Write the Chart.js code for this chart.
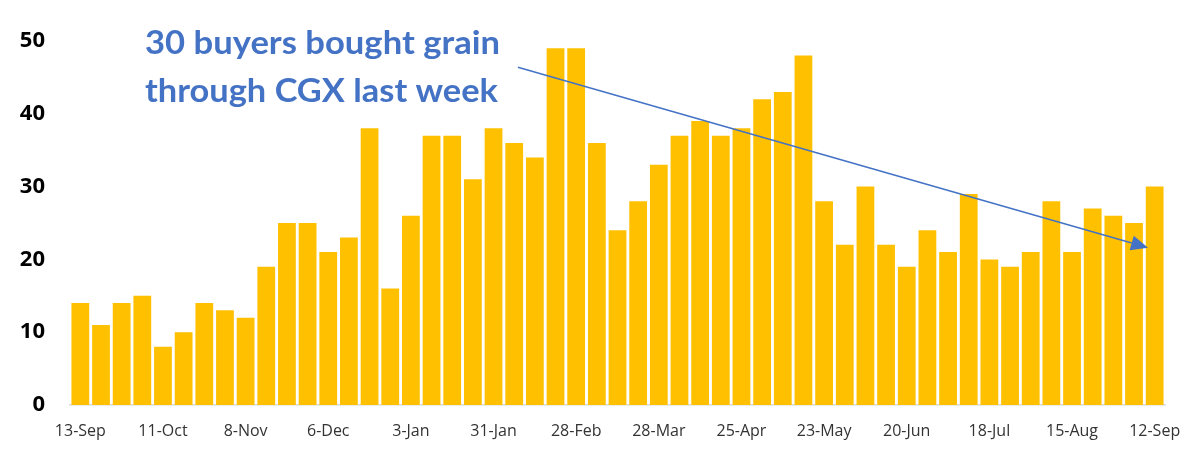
<!DOCTYPE html>
<html>
<head>
<meta charset="utf-8">
<script src="https://cdn.jsdelivr.net/npm/chart.js@4/dist/chart.umd.min.js"></script>
<style>
html,body{margin:0;padding:0;background:#fff;}
#wrap{width:1203px;height:462px;}
</style>
</head>
<body>
<div id="wrap"><canvas id="c" width="1203" height="462"></canvas></div>
<script>
const categories = ["13-Sep","20-Sep","27-Sep","4-Oct","11-Oct","18-Oct","25-Oct","1-Nov","8-Nov","15-Nov","22-Nov","29-Nov","6-Dec","13-Dec","20-Dec","27-Dec","3-Jan","10-Jan","17-Jan","24-Jan","31-Jan","7-Feb","14-Feb","21-Feb","28-Feb","7-Mar","14-Mar","21-Mar","28-Mar","4-Apr","11-Apr","18-Apr","25-Apr","2-May","9-May","16-May","23-May","30-May","6-Jun","13-Jun","20-Jun","27-Jun","4-Jul","11-Jul","18-Jul","25-Jul","1-Aug","8-Aug","15-Aug","22-Aug","29-Aug","5-Sep","12-Sep"];
const buyers = [14,11,14,15,8,10,14,13,12,19,25,25,21,23,38,16,26,37,37,31,38,36,34,49,49,36,24,28,33,37,39,37,38,42,43,48,28,22,30,22,19,24,21,29,20,19,21,28,21,27,26,25,30];
const yTicks = [0,10,20,30,40,50];
const titleLines = ["30 buyers bought grain","through CGX last week"];
// arrow annotation endpoints in data units (category index, value)
const arrowFrom = {x:21.18, y:46.4};
const arrowTo = {x:51.68, y:21.6};

const annotation = {
  id:'annot',
  afterDraw(chart){
    const ctx = chart.ctx, xs = chart.scales.x, ys = chart.scales.y;
    ctx.save();
    ctx.fillStyle = '#4472C4';
    ctx.font = 'bold 32px Lato';
    ctx.textBaseline = 'alphabetic';
    const targetW = [355, 353];
    const baselines = [54, 102];
    titleLines.forEach((t,i)=>{
      const w = ctx.measureText(t).width;
      ctx.save();
      ctx.translate(145, baselines[i]);
      ctx.scale(targetW[i]/w, 1);
      ctx.fillText(t, 0, 0);
      ctx.restore();
    });
    const x1 = xs.getPixelForValue(arrowFrom.x), y1 = ys.getPixelForValue(arrowFrom.y);
    const x2 = xs.getPixelForValue(arrowTo.x), y2 = ys.getPixelForValue(arrowTo.y);
    const ang = Math.atan2(y2-y1, x2-x1);
    const hl = 17, hw = 7.5;
    const bx = x2 - hl*Math.cos(ang), by = y2 - hl*Math.sin(ang);
    ctx.strokeStyle = '#4472C4';
    ctx.lineWidth = 1.5;
    ctx.beginPath();
    ctx.moveTo(x1,y1);
    ctx.lineTo(bx,by);
    ctx.stroke();
    ctx.beginPath();
    ctx.moveTo(x2,y2);
    ctx.lineTo(bx + hw*Math.sin(ang), by - hw*Math.cos(ang));
    ctx.lineTo(bx - hw*Math.sin(ang), by + hw*Math.cos(ang));
    ctx.closePath();
    ctx.fillStyle = '#4472C4';
    ctx.fill();
    ctx.restore();
  }
};

new Chart(document.getElementById('c'), {
  type:'bar',
  data:{
    labels: categories,
    datasets:[{
      data: buyers,
      backgroundColor:'#FFC000',
      borderWidth:0,
      barPercentage:0.86,
      categoryPercentage:1.0
    }]
  },
  options:{
    responsive:false,
    animation:false,
    devicePixelRatio:1,
    layout:{padding:{left:0,right:38,top:41,bottom:0}},
    plugins:{legend:{display:false},tooltip:{enabled:false}},
    scales:{
      x:{
        grid:{display:false,drawTicks:false},
        border:{display:true,color:'#D9D9D9',width:1.5},
        ticks:{
          autoSkip:false,maxRotation:0,minRotation:0,
          padding:17,
          color:'#333333',
          font:{family:'Open Sans',size:16},
          callback:function(v,i){return i%4===0?categories[i]:'';}
        },
        afterFit(s){s.height = 57;}
      },
      y:{
        min:0,max:50,
        grid:{display:false,drawTicks:false},
        border:{display:false},
        afterBuildTicks(s){s.ticks = yTicks.map(v=>({value:v}));},
        ticks:{
          padding:25,
          color:'#000',
          font:{family:'Open Sans',size:22,weight:'bold'}
        },
        afterFit(s){s.width = 70;}
      }
    }
  },
  plugins:[annotation]
});
</script>
</body>
</html>
